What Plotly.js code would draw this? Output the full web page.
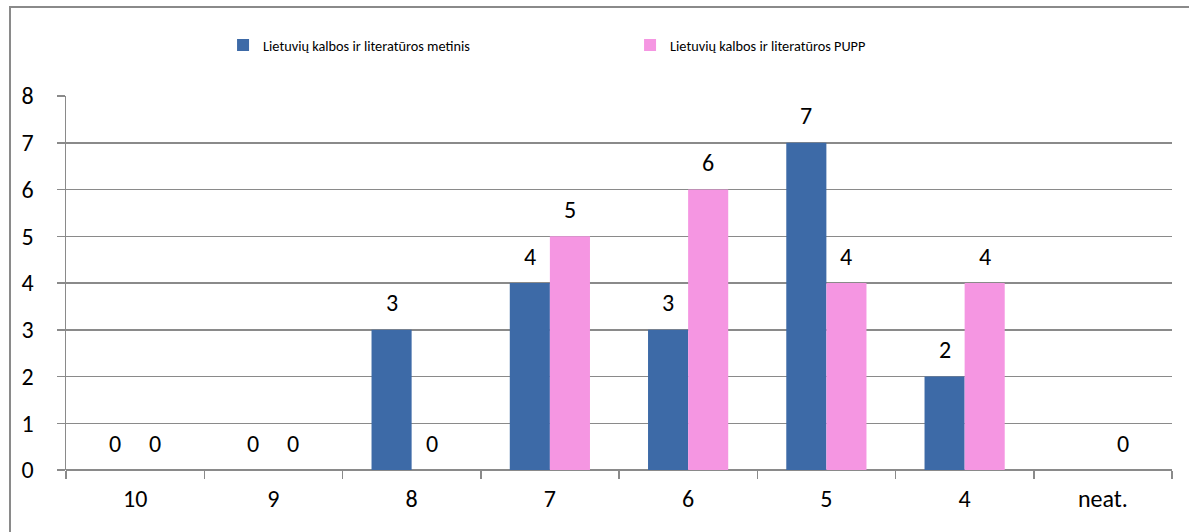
<!DOCTYPE html>
<html>
<head>
<meta charset="utf-8">
<script src="https://cdn.plot.ly/plotly-3.0.1.min.js"></script>
<style>
  html, body { margin: 0; padding: 0; background: #fff; overflow: hidden; }
  #chart { width: 1189px; height: 532px; position: absolute; left: 0; top: 0; }
  #frame { position: absolute; left: 9px; top: 6px; width: 1300px; height: 700px;
           border-left: 2.5px solid #8a8a8a; border-top: 2.5px solid #8a8a8a; pointer-events: none; }
</style>
</head>
<body>
<div id="chart"></div>
<div id="frame"></div>
<script>
const categories = ["10", "9", "8", "7", "6", "5", "4", "neat."];
const seriesNames = ["Lietuvių kalbos ir literatūros metinis", "Lietuvių kalbos ir literatūros PUPP"];
const metinis = [0, 0, 3, 4, 3, 7, 2, null];
const pupp = [0, 0, 0, 5, 6, 4, 4, 0];
const yTicks = [0, 1, 2, 3, 4, 5, 6, 7, 8];

const FONT = "Carlito, Lato, 'Noto Sans', sans-serif";
const BLUE = "#3d6aa7";
const PINK = "#f596e2";

const traces = [
  { type: "bar", name: seriesNames[0], x: categories, y: metinis,
    marker: { color: BLUE }, hoverinfo: "skip" },
  { type: "bar", name: seriesNames[1], x: categories, y: pupp,
    marker: { color: PINK }, hoverinfo: "skip" }
];

const annotations = [];
[metinis, pupp].forEach((arr, si) => {
  arr.forEach((v, i) => {
    if (v === null) return;
    annotations.push({
      x: i, y: v, xref: "x", yref: "y",
      text: String(v), showarrow: false,
      xshift: si === 0 ? -20 : 20, yshift: 27,
      yanchor: "middle", xanchor: "center",
      font: { family: FONT, size: 24, color: "#000" }
    });
  });
});

const layout = {
  width: 1189, height: 532,
  margin: { l: 66, r: 17, t: 96, b: 62 },
  paper_bgcolor: "rgba(0,0,0,0)", plot_bgcolor: "#fff",
  barmode: "group", bargap: 0.42, bargroupgap: 0,
  font: { family: FONT, size: 24, color: "#000" },
  showlegend: true,
  legend: {
    orientation: "h", x: 0.142, xanchor: "left", y: 1.136, yanchor: "middle",
    font: { family: FONT, size: 14.3, color: "#000" },
    entrywidth: 362, entrywidthmode: "pixels", itemwidth: 30,
    traceorder: "normal"
  },
  xaxis: {
    type: "category", range: [-0.5, 7.5], tickson: "boundaries", ticks: "outside", ticklen: 8,
    tickcolor: "#8a8a8a", tickwidth: 1.5, showline: false, showgrid: false,
    ticklabelstandoff: 12, fixedrange: true,
    tickfont: { family: FONT, size: 24, color: "#000" }
  },
  yaxis: {
    range: [0, 8], tickvals: yTicks, ticktext: yTicks.map(String),
    ticks: "outside", ticklen: 8, tickcolor: "#8a8a8a", tickwidth: 1.5,
    showline: true, linecolor: "#8a8a8a", linewidth: 1.5,
    showgrid: true, gridcolor: "#8a8a8a", gridwidth: 1.5,
    zeroline: true, zerolinecolor: "#8a8a8a", zerolinewidth: 1.5,
    ticklabelstandoff: 18, fixedrange: true,
    tickfont: { family: FONT, size: 24, color: "#000" }
  },
  annotations: annotations
};

Plotly.newPlot("chart", traces, layout, { displayModeBar: false, staticPlot: true });
</script>
</body>
</html>
